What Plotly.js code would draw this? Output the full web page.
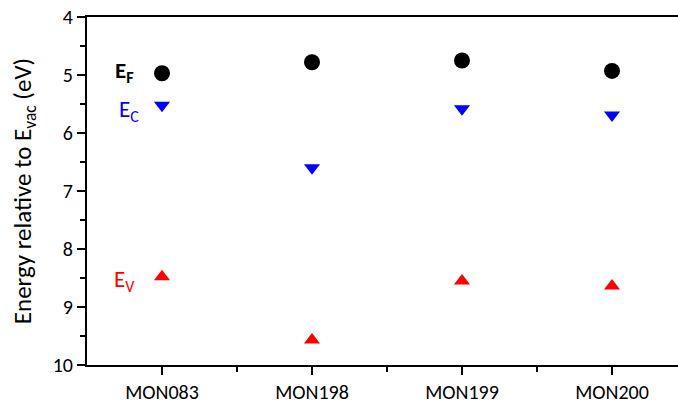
<!DOCTYPE html>
<html>
<head>
<meta charset="utf-8">
<script src="https://cdn.plot.ly/plotly-3.0.1.min.js"></script>
<style>
  html, body { margin: 0; padding: 0; background: #fff; }
  #chart { width: 678px; height: 403px; }
</style>
</head>
<body>
<div id="chart"></div>
<script>
// Sample names along the x axis
const samples = ["MON083", "MON198", "MON199", "MON200"];
// Fermi level, conduction band and valence band edges (eV below vacuum)
const fermiLevel = [4.97, 4.78, 4.75, 4.93];
const conductionBand = [5.52, 6.60, 5.58, 5.69];
const valenceBand = [8.48, 9.57, 8.55, 8.64];

const positions = samples.map((_, i) => i);
const font = "Carlito, 'Open Sans', 'Noto Sans', sans-serif";

const traces = [
  {
    x: positions, y: fermiLevel, type: "scatter", mode: "markers", name: "E_F",
    marker: { symbol: "circle", size: 16, color: "#000000" }
  },
  {
    x: positions, y: conductionBand, type: "scatter", mode: "markers", name: "E_C",
    marker: { symbol: "triangle-down", size: 14, color: "#0000ff" }
  },
  {
    x: positions, y: valenceBand, type: "scatter", mode: "markers", name: "E_V",
    marker: { symbol: "triangle-up", size: 14, color: "#ff0000" }
  }
];

const layout = {
  width: 678, height: 403,
  margin: { l: 87, r: 0, t: 17, b: 38 },
  paper_bgcolor: "#ffffff", plot_bgcolor: "#ffffff",
  showlegend: false,
  font: { family: font, size: 20, color: "#000000" },
  xaxis: {
    range: [-0.5, 3.44],
    tickvals: positions, ticktext: samples,
    ticks: "outside", ticklen: 8, tickwidth: 2, tickcolor: "#000",
    minor: { tickvals: [0.5, 1.5, 2.5], ticks: "outside", ticklen: 5, tickwidth: 2, tickcolor: "#000" },
    showline: true, linewidth: 2, linecolor: "#000", mirror: true,
    showgrid: false, zeroline: false,
    tickfont: { family: font, size: 20 }
  },
  yaxis: {
    range: [10, 4],
    tickvals: [4, 5, 6, 7, 8, 9, 10],
    ticks: "outside", ticklen: 8, tickwidth: 2, tickcolor: "#000",
    minor: { dtick: 0.5, ticks: "outside", ticklen: 5, tickwidth: 2, tickcolor: "#000" },
    showline: true, linewidth: 2, linecolor: "#000",
    showgrid: false, zeroline: false,
    tickfont: { family: font, size: 20 },
    title: { text: "Energy relative to E<sub>vac</sub> (eV)", font: { family: font, size: 25 }, standoff: 14 }
  },
  annotations: [
    { x: -0.25, y: 4.94, xref: "x", yref: "y", text: "<b>E<sub>F</sub></b>", showarrow: false,
      font: { family: font, size: 23, color: "#000000" } },
    { x: -0.22, y: 5.62, xref: "x", yref: "y", text: "E<sub>C</sub>", showarrow: false,
      font: { family: font, size: 23, color: "#0000ff" } },
    { x: -0.25, y: 8.54, xref: "x", yref: "y", text: "E<sub>V</sub>", showarrow: false,
      font: { family: font, size: 23, color: "#ff0000" } }
  ]
};

Plotly.newPlot("chart", traces, layout, { displayModeBar: false, staticPlot: true });
</script>
</body>
</html>
